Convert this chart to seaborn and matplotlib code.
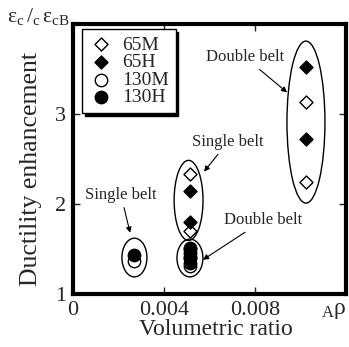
import matplotlib
matplotlib.use("Agg")
import matplotlib.pyplot as plt
import seaborn as sns
import pandas as pd
from matplotlib.patches import Ellipse

# ---- data ----
x_65M = [0.00514, 0.00514, 0.01024, 0.01024]
y_65M = [2.33, 1.70, 3.13, 2.25]
x_65H = [0.00514, 0.00514, 0.01024, 0.01024]
y_65H = [2.15, 1.80, 3.52, 2.72]
x_130M = [0.00268, 0.00514, 0.00514, 0.00514]
y_130M = [1.37, 1.31, 1.41, 1.51]
x_130H = [0.00268, 0.00514, 0.00514, 0.00514, 0.00514]
y_130H = [1.43, 1.34, 1.40, 1.46, 1.50]
series_names = ["65M", "65H", "130M", "130H"]
xtick_vals = [0, 0.004, 0.008, 0.012]
xtick_labels = ["0", "0.004", "0.008", ""]
ytick_vals = [1, 2, 3, 4]
ytick_labels = ["1", "2", "3", ""]

sns.set_theme(style="white")
plt.rcParams["font.family"] = ["Liberation Serif", "DejaVu Serif"]
plt.rcParams["mathtext.fontset"] = "custom"
plt.rcParams["mathtext.rm"] = "Liberation Serif"
plt.rcParams["mathtext.it"] = "Liberation Serif"

W, H = 349, 347
fig = plt.figure(figsize=(W/100, H/100), dpi=100)
ax = fig.add_axes([73/W, 1-294/H, 273/W, 270/H])

styles = {
    "65M": dict(marker="D", color="white", s=44),
    "65H": dict(marker="D", color="black", s=44),
    "130M": dict(marker="o", color="white", s=80),
    "130H": dict(marker="o", color="black", s=80),
}
data = {"65M": (x_65M, y_65M), "65H": (x_65H, y_65H),
        "130M": (x_130M, y_130M), "130H": (x_130H, y_130H)}
for name in series_names:
    xs, ys = data[name]
    df = pd.DataFrame({"x": xs, "y": ys})
    st = styles[name]
    sns.scatterplot(data=df, x="x", y="y", ax=ax, marker=st["marker"],
                    color=st["color"], s=st["s"], edgecolor="black",
                    linewidth=1.0, label=name, zorder=3)

# ellipses around groups
ell_kw = dict(fill=False, edgecolor="black", linewidth=1.0, zorder=2)
ax.add_patch(Ellipse((0.0027, 1.405), 0.0011, 0.43, **ell_kw))
ax.add_patch(Ellipse((0.00514, 1.40), 0.00114, 0.42, **ell_kw))
ax.add_patch(Ellipse((0.00508, 2.04), 0.00127, 0.89, **ell_kw))
ax.add_patch(Ellipse((0.01024, 2.91), 0.00167, 1.80, **ell_kw))

ax.set_xlim(0, 0.012)
ax.set_ylim(1, 4)
ax.set_xticks(xtick_vals)
ax.set_xticklabels(xtick_labels)
ax.set_yticks(ytick_vals)
ax.set_yticklabels(ytick_labels)
ax.tick_params(direction="in", length=5, width=1, labelsize=16,
               top=True, right=True, bottom=True, left=True, pad=5)
for sp in ax.spines.values():
    sp.set_linewidth(3)
    sp.set_color("black")

ax.set_xlabel("Volumetric ratio", fontsize=17)
ax.xaxis.set_label_coords(0.522, -0.092)
ax.set_ylabel("Ductility enhancement", fontsize=18.5)
ax.yaxis.set_label_coords(-0.112, 0.463)

# annotations
akw = dict(arrowprops=dict(arrowstyle="-|>", color="black", lw=0.8,
                           mutation_scale=8, shrinkA=1, shrinkB=0),
           fontsize=12, ha="center", va="center")
ax.annotate("Double belt", xy=(0.00941, 3.24), xytext=(0.00756, 3.63), **akw)
ax.annotate("Single belt", xy=(0.00576, 2.36), xytext=(0.00681, 2.69), **akw)
ax.annotate("Single belt", xy=(0.00251, 1.68), xytext=(0.00211, 2.10), **akw)
ax.annotate("Double belt", xy=(0.00571, 1.38), xytext=(0.00837, 1.82), **akw)

# top-left quantity label (single text)
fig.text(7/W, 1-22/H, r"$\mathregular{ε_c\,/_c\,ε_{cB}}$", fontsize=15.5,
         ha="left", va="baseline")
# axis symbol at right end of x axis
fig.text(347/W, 1-314/H, r"$\mathregular{{}_{A}ρ}$", fontsize=17,
         ha="right", va="baseline")

leg = ax.legend(loc="upper left", bbox_to_anchor=(0.033, 0.981), fontsize=14,
                frameon=True, fancybox=False, edgecolor="black",
                shadow={"color": "black", "alpha": 1}, handletextpad=0.4,
                labelspacing=0.0, borderpad=0.35, borderaxespad=0,
                handlelength=1.3)
leg.get_frame().set_linewidth(1.0)

fig.savefig("out.png", dpi=100)
